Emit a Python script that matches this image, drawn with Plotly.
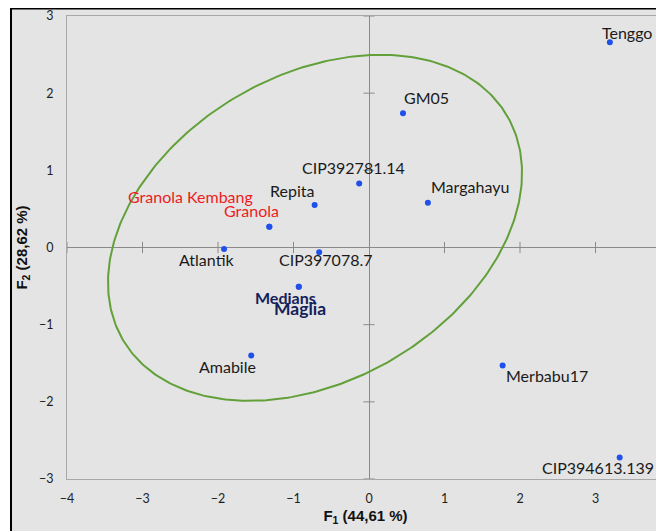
import numpy as np
import plotly.graph_objects as go

# ---- data ----
labels = ["Tenggo", "GM05", "CIP392781.14", "Margahayu", "Repita", "Granola Kembang",
          "Granola", "Atlantik", "CIP397078.7", "Medians", "Maglia", "Amabile",
          "Merbabu17", "CIP394613.139"]
f1 = [3.19, 0.45, -0.13, 0.78, -0.72, -1.32, -1.32, -1.92, -0.66, -0.93, -0.93, -1.56, 1.77, 3.32]
f2 = [2.66, 1.74, 0.83, 0.58, 0.55, 0.27, 0.27, -0.02, -0.06, -0.51, -0.51, -1.40, -1.53, -2.72]

x_ticks = [-4, -3, -2, -1, 0, 1, 2, 3]
y_ticks = [-3, -2, -1, 0, 1, 2, 3]

# confidence ellipse parameters (center, semi-axes, rotation in degrees)
ell_cx, ell_cy = -0.715, 0.255
ell_a, ell_b = 2.93, 1.99
ell_theta = 28.7

# ---- styles ----
label_style = {
    "Tenggo": dict(dx=17, dy=-10, color="#1a1a1a", bold=False, size=16),
    "GM05": dict(dx=24, dy=-16, color="#1a1a1a", bold=False, size=16),
    "CIP392781.14": dict(dx=-6, dy=-16, color="#1a1a1a", bold=False, size=16),
    "Margahayu": dict(dx=42, dy=-16, color="#1a1a1a", bold=False, size=16),
    "Repita": dict(dx=-23, dy=-15, color="#1a1a1a", bold=False, size=16),
    "Granola Kembang": dict(dx=-79, dy=-30, color="#ee1c1c", bold=False, size=16),
    "Granola": dict(dx=-18, dy=-16, color="#ee1c1c", bold=False, size=16),
    "Atlantik": dict(dx=-18, dy=10, color="#1a1a1a", bold=False, size=16),
    "CIP397078.7": dict(dx=7, dy=7, color="#1a1a1a", bold=False, size=16),
    "Medians": dict(dx=-13, dy=11, color="#14215a", bold=True, size=16),
    "Maglia": dict(dx=1, dy=22, color="#14215a", bold=True, size=17.5),
    "Amabile": dict(dx=-24, dy=11, color="#1a1a1a", bold=False, size=16),
    "Merbabu17": dict(dx=44, dy=10, color="#1a1a1a", bold=False, size=16),
    "CIP394613.139": dict(dx=-22, dy=10, color="#1a1a1a", bold=False, size=16),
}

# the page body adds an 8px offset; the figure fills the rest of the window
W, H = 656, 523
ml, mt, mb, mr = 59, 8, 52, 0
pw, ph = W - ml - mr, H - mt - mb
x_range = [-4, -4 + pw / 75.5]
y_range = [-3, 3]
bg = "#e4e4e4"
axis_gray = "#8a8a8a"
font_main = "Lato"

fig = go.Figure()

# ellipse
t = np.linspace(0, 2 * np.pi, 361)
th = np.deg2rad(ell_theta)
ex = ell_cx + ell_a * np.cos(t) * np.cos(th) - ell_b * np.sin(t) * np.sin(th)
ey = ell_cy + ell_a * np.cos(t) * np.sin(th) + ell_b * np.sin(t) * np.cos(th)
fig.add_trace(go.Scatter(x=ex, y=ey, mode="lines", line=dict(color="#62a03a", width=2),
                         hoverinfo="skip", showlegend=False))

# crossing tick marks on the zero axes
xt = [v for v in x_ticks if v != 0]
yt = [v for v in y_ticks if v != 0]
fig.add_trace(go.Scatter(x=xt, y=[0] * len(xt), mode="markers",
                         marker=dict(symbol="line-ns", size=8, line=dict(color=axis_gray, width=1)),
                         hoverinfo="skip", showlegend=False))
fig.add_trace(go.Scatter(x=[0] * len(yt), y=yt, mode="markers",
                         marker=dict(symbol="line-ew", size=8, line=dict(color=axis_gray, width=1)),
                         hoverinfo="skip", showlegend=False))

# points
fig.add_trace(go.Scatter(x=f1, y=f2, mode="markers",
                         marker=dict(color="#1f50ec", size=6),
                         text=labels, showlegend=False))

# labels
for name, x, y in zip(labels, f1, f2):
    s = label_style[name]
    txt = f"<b>{name}</b>" if s["bold"] else name
    fig.add_annotation(x=x, y=y, text=txt, showarrow=False,
                       xshift=s["dx"], yshift=-s["dy"],
                       xanchor="center", yanchor="middle",
                       font=dict(family=font_main, size=s["size"], color=s["color"]))

# outer black frame (left edge at figure x=3, top edge at figure y=0.5)
fig.add_shape(type="rect", xref="paper", yref="paper",
              x0=(3 - ml) / pw, x1=1.2,
              y0=-0.3, y1=(ph + mt - 0.5) / ph,
              line=dict(color="black", width=2), fillcolor=bg, layer="below")

fig.update_layout(
    width=W, height=H,
    margin=dict(l=ml, r=mr, t=mt, b=mb, pad=0),
    paper_bgcolor="white",
    plot_bgcolor=bg,
    font=dict(family=font_main, color="#222222"),
    xaxis=dict(range=x_range, tickvals=x_ticks, showgrid=False,
               zeroline=True, zerolinecolor=axis_gray, zerolinewidth=1,
               showline=True, mirror=True, linecolor="#a8a8a8", linewidth=1,
               ticks="outside", ticklen=8, tickcolor="rgba(0,0,0,0)",
               tickfont=dict(family=font_main, size=12.5, color="#1e1e1e"),
               title=dict(text="<b>F<sub>1</sub> (44,61 %)</b>", standoff=5,
                          font=dict(family="Liberation Sans", size=15, color="#111111"))),
    yaxis=dict(range=y_range, tickvals=y_ticks, showgrid=False,
               zeroline=True, zerolinecolor=axis_gray, zerolinewidth=1,
               showline=True, mirror=False, linecolor="#a8a8a8", linewidth=1,
               ticks="outside", ticklen=10, tickcolor="rgba(0,0,0,0)",
               tickfont=dict(family=font_main, size=12.5, color="#1e1e1e"),
               title=dict(text="<b>F<sub>2</sub> (28,62 %)</b>", standoff=7,
                          font=dict(family="Liberation Sans", size=15, color="#111111"))),
)

fig.write_html("out.html")
